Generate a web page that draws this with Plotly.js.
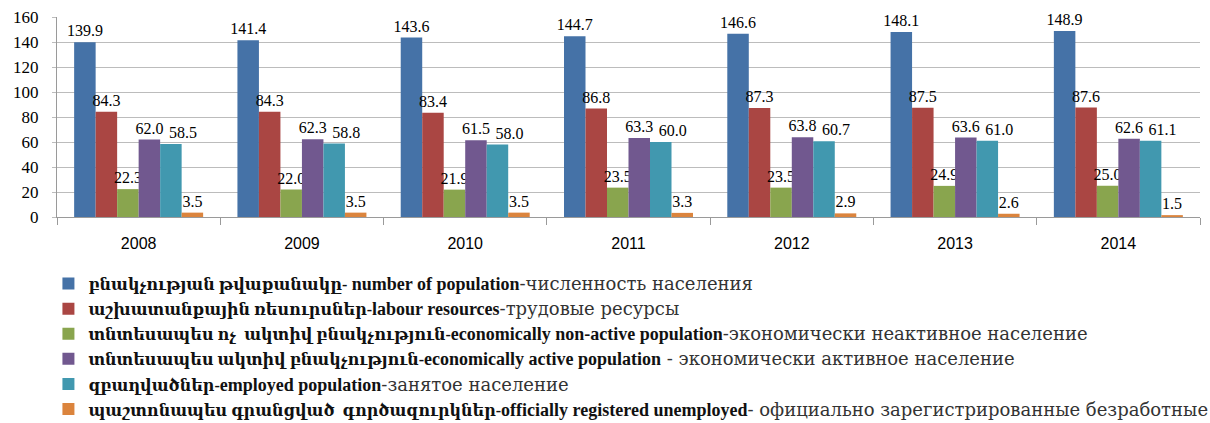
<!DOCTYPE html>
<html>
<head>
<meta charset="utf-8">
<script src="https://cdn.plot.ly/plotly-3.0.1.min.js"></script>
<style>html,body{margin:0;padding:0;background:#fff;}#chart{width:1210px;height:423px;}</style>
</head>
<body>
<div id="chart"></div>
<script>
const years = ['2008', '2009', '2010', '2011', '2012', '2013', '2014'];

const population = [139.9, 141.4, 143.6, 144.7, 146.6, 148.1, 148.9];
const labourResources = [84.3, 84.3, 83.4, 86.8, 87.3, 87.5, 87.6];
const nonActive = [22.3, 22.0, 21.9, 23.5, 23.5, 24.9, 25.0];
const active = [62.0, 62.3, 61.5, 63.3, 63.8, 63.6, 62.6];
const employed = [58.5, 58.8, 58.0, 60.0, 60.7, 61.0, 61.1];
const unemployed = [3.5, 3.5, 3.5, 3.3, 2.9, 2.6, 1.5];

const namesArmenian = [
  'բնակչության թվաքանակը-',
  'աշխատանքային ռեսուրսներ-',
  'տնտեսապես ոչ  ակտիվ բնակչություն-',
  'տնտեսապես ակտիվ բնակչություն-',
  'զբաղվածներ-',
  'պաշտոնապես գրանցված  գործազուրկներ-'
];
const namesEnglish = [
  ' number of population',
  'labour resources',
  'economically non-active population',
  'economically active population',
  'employed population',
  'officially registered unemployed'
];
const namesRussian = [
  '-численность населения',
  '-трудовые ресурсы',
  '-экономически неактивное население',
  ' - экономически активное население',
  '-занятое население',
  '- официально зарегистрированные безработные'
];
const seriesValues = [population, labourResources, nonActive, active, employed, unemployed];
const colors = ['#4572A7', '#AA4643', '#89A54E', '#71588F', '#4198AF', '#DB843D'];
// label templates: the employed-population labels sit a little to the right, as in the source chart
const NB = '\u00a0';
const labelTemplates = ['%{text}', '%{text}', '%{text}', '%{text}', NB.repeat(6) + '%{text}', '%{text}'];

const serif = 'Liberation Serif, DejaVu Serif, serif';
const sans = 'Liberation Sans, DejaVu Sans, sans-serif';

function legendName(i) {
  return '<b><span style="font-size:16px">' + namesArmenian[i] + '</span>' +
         '<span style="font-size:18px">' + namesEnglish[i] + '</span></b>' +
         '<span style="font-size:18px;font-family:DejaVu Serif, serif;color:#333">' + namesRussian[i] + '</span>';
}

const traces = seriesValues.map((vals, i) => ({
  type: 'bar',
  x: years,
  y: vals,
  name: legendName(i),
  marker: {color: colors[i]},
  text: vals.map(v => v.toFixed(1)),
  texttemplate: labelTemplates[i],
  textposition: 'outside',
  constraintext: 'none',
  cliponaxis: false,
  textfont: {family: serif, size: 16, color: '#000'},
  hoverinfo: 'x+y'
}));

const layout = {
  width: 1210,
  height: 423,
  margin: {l: 57, r: 10, t: 17, b: 206, autoexpand: false},
  paper_bgcolor: '#fff',
  plot_bgcolor: '#fff',
  barmode: 'group',
  bargap: 0.21,
  bargroupgap: 0,
  font: {family: serif, size: 14, color: '#000'},
  xaxis: {
    type: 'category',
    showline: true,
    linecolor: '#9a9a9a',
    linewidth: 1,
    ticks: 'outside',
    tickson: 'boundaries',
    ticklen: 7,
    tickcolor: '#9a9a9a',
    showgrid: false,
    ticklabelstandoff: 12,
    tickfont: {family: sans, size: 16, color: '#000'},
    automargin: false
  },
  yaxis: {
    range: [0, 160],
    dtick: 20,
    showgrid: true,
    gridcolor: '#bcbcbc',
    gridwidth: 1,
    zeroline: false,
    showline: true,
    linecolor: '#9a9a9a',
    linewidth: 1,
    ticks: 'outside',
    ticklen: 4,
    tickcolor: '#bcbcbc',
    ticklabelstandoff: 10,
    tickfont: {family: serif, size: 17, color: '#000'},
    automargin: false
  },
  showlegend: true,
  legend: {
    orientation: 'v',
    x: -0.0075,
    xanchor: 'left',
    y: -0.245,
    yanchor: 'top',
    font: {family: serif, size: 17, color: '#111'},
    itemwidth: 30,
    tracegroupgap: 0,
    bgcolor: 'rgba(0,0,0,0)'
  }
};

Plotly.newPlot('chart', traces, layout, {displayModeBar: false, staticPlot: true});
</script>
</body>
</html>
